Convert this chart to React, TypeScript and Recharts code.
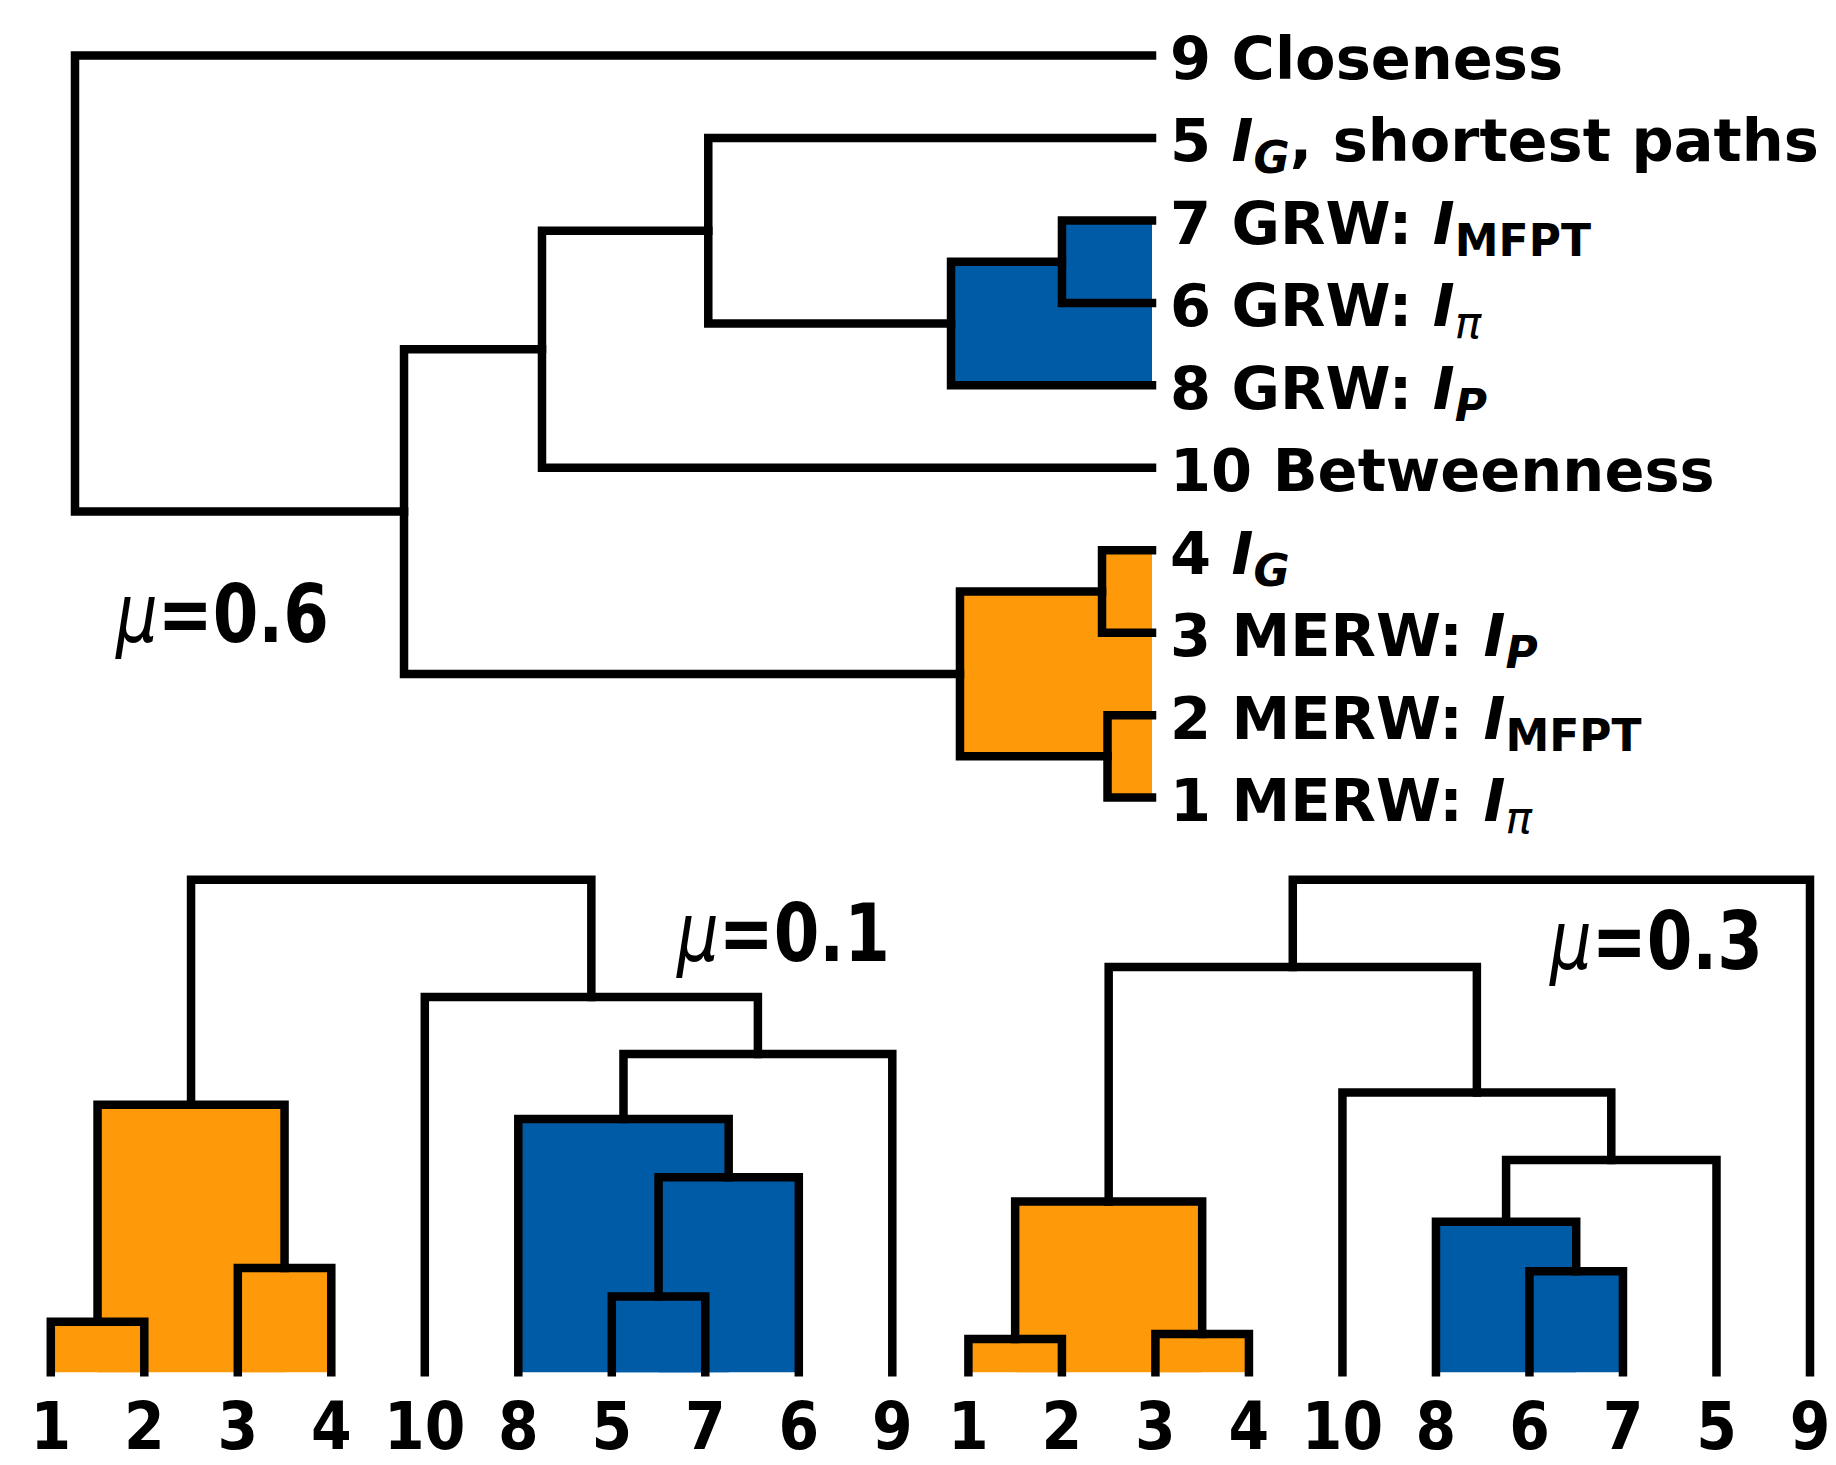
import React from 'react';
import { ScatterChart, Scatter, XAxis, YAxis, ReferenceArea } from 'recharts';

type Ref = number | string;
type Merge = [Ref, Ref, number, string];

const ORANGE = '#FE9A0A';
const BLUE = '#005BA6';
const FONT = '"DejaVu Sans", "Liberation Sans", sans-serif';

// Leaf ids in dendrogram order (first leaf sits at position 5, then 15, 25, ...)
const leaves06 = [1, 2, 3, 4, 10, 8, 6, 7, 5, 9];
const leaves01 = [1, 2, 3, 4, 10, 8, 5, 7, 6, 9];
const leaves03 = [1, 2, 3, 4, 10, 8, 6, 7, 5, 9];

// Merges: [child A, child B, merge distance, cluster ('o' orange, 'b' blue, '' none)]
// children: leaf id (number) or earlier merge 'mK'
const merges06: Merge[] = [
  [1, 2, 0.0413, 'o'],
  [3, 4, 0.0464, 'o'],
  ['m0', 'm1', 0.1783, 'o'],
  [6, 7, 0.0836, 'b'],
  [8, 'm3', 0.1866, 'b'],
  ['m4', 5, 0.412, ''],
  [10, 'm5', 0.5664, ''],
  ['m2', 'm6', 0.6945, ''],
  ['m7', 9, 1.0, ''],
];

const merges01: Merge[] = [
  [1, 2, 0.1025, 'o'],
  [3, 4, 0.212, 'o'],
  ['m0', 'm1', 0.543, 'o'],
  [5, 7, 0.154, 'b'],
  ['m3', 6, 0.396, 'b'],
  [8, 'm4', 0.514, 'b'],
  ['m5', 9, 0.646, ''],
  [10, 'm6', 0.762, ''],
  ['m2', 'm7', 1.0, ''],
];

const merges03: Merge[] = [
  [1, 2, 0.0676, 'o'],
  [3, 4, 0.0778, 'o'],
  ['m0', 'm1', 0.347, 'o'],
  [6, 7, 0.205, 'b'],
  [8, 'm3', 0.3055, 'b'],
  ['m4', 5, 0.431, ''],
  [10, 'm5', 0.568, ''],
  ['m2', 'm6', 0.823, ''],
  ['m7', 9, 1.0, ''],
];

// Leaf names (index = leaf id - 1)
const leafNames = ['MERW: ', 'MERW: ', 'MERW: ', '', '', 'GRW: ', 'GRW: ', 'GRW: ', 'Closeness', 'Betweenness'];
const leafSubs = ['π', 'MFPT', 'P', 'G', 'G', 'π', 'MFPT', 'P', '', ''];
const leafSuffix = ['', '', '', '', ', shortest paths', '', '', '', '', ''];

const muValues = ['0.6', '0.1', '0.3'];

interface Pt { p: number; h: number }
interface Link { pts: Pt[]; lo: number; hi: number; h: number; group: string }

function buildLinks(leaves: number[], merges: Merge[]): Link[] {
  const pos = new Map<string, number>();
  const hgt = new Map<string, number>();
  leaves.forEach((id, i) => {
    pos.set(String(id), 5 + 10 * i);
    hgt.set(String(id), 0);
  });
  return merges.map(([a, b, h, g], i) => {
    const pa = pos.get(String(a)) as number;
    const pb = pos.get(String(b)) as number;
    const ha = hgt.get(String(a)) as number;
    const hb = hgt.get(String(b)) as number;
    pos.set('m' + i, (pa + pb) / 2);
    hgt.set('m' + i, h);
    return {
      pts: [
        { p: pa, h: ha },
        { p: pa, h },
        { p: pb, h },
        { p: pb, h: hb },
      ],
      lo: Math.min(pa, pb),
      hi: Math.max(pa, pb),
      h,
      group: g,
    };
  });
}

const colorOf = (g: string) => (g === 'o' ? ORANGE : BLUE);
const ticksFor = (leaves: number[]) => leaves.map((_, i) => 5 + 10 * i);
const noShape = () => <g />;
const lineStyle = { stroke: '#000', strokeWidth: 8.5, strokeLinecap: 'square' as const, strokeLinejoin: 'miter' as const, fill: 'none' };

function LeafLabel({ id, x, y }: { id: number; x: number; y: number }) {
  const i = id - 1;
  const sub = leafSubs[i];
  const subItalic = sub === 'MFPT' ? 'normal' : 'italic';
  const subWeight = sub === 'π' ? 'normal' : 'bold';
  return (
    <text x={x} y={y} fontFamily={FONT} fontWeight="bold" fontSize={59} fill="#000" style={{ whiteSpace: 'pre' }}>
      <tspan>{`${id} ${leafNames[i]}`}</tspan>
      {sub ? <tspan fontStyle="italic">I</tspan> : null}
      {sub ? (
        <tspan dy={12} fontSize={44} fontStyle={subItalic} fontWeight={subWeight}>
          {sub}
        </tspan>
      ) : null}
      {sub ? <tspan dy={-12}>{leafSuffix[i]}</tspan> : null}
    </text>
  );
}

const links06 = buildLinks(leaves06, merges06);
const links01 = buildLinks(leaves01, merges01);
const links03 = buildLinks(leaves03, merges03);

function TopDendrogram() {
  const renderTick = (props: any) => {
    const { x, y, payload } = props;
    const id = leaves06[Math.round((payload.value - 5) / 10)];
    return <LeafLabel id={id} x={x + 18} y={y + 23.5} />;
  };
  return (
    <ScatterChart width={1836} height={860} margin={{ top: 14.3, right: 0, bottom: 21.2, left: 75 }}>
      <XAxis type="number" dataKey="h" domain={[0, 1]} reversed hide />
      <YAxis
        type="number"
        dataKey="p"
        domain={[0, 100]}
        orientation="right"
        width={684}
        ticks={ticksFor(leaves06)}
        interval={0}
        tickSize={0}
        tickMargin={0}
        axisLine={false}
        tickLine={false}
        tick={renderTick}
      />
      {links06
        .filter((l) => l.group)
        .map((l, i) => (
          <ReferenceArea
            key={'f' + i}
            x1={l.h}
            x2={0}
            y1={l.lo}
            y2={l.hi}
            fill={colorOf(l.group)}
            fillOpacity={1}
            stroke="none"
            ifOverflow="visible"
          />
        ))}
      {links06.map((l, i) => (
        <Scatter
          key={'l' + i}
          data={l.pts}
          isAnimationActive={false}
          line={lineStyle}
          shape={noShape}
          fill="#000"
          legendType="none"
        />
      ))}
    </ScatterChart>
  );
}

function BottomDendrogram({ leaves, links, width, left, right }: { leaves: number[]; links: Link[]; width: number; left: number; right: number }) {
  const renderTick = (props: any) => {
    const { x, y, payload } = props;
    const id = leaves[Math.round((payload.value - 5) / 10)];
    return (
      <g transform={`translate(${x},${y + 77})`}>
        <text transform="scale(0.886,1)" textAnchor="middle" fontFamily={FONT} fontWeight="bold" fontSize={66} fill="#000">
          {id}
        </text>
      </g>
    );
  };
  return (
    <ScatterChart width={width} height={625} margin={{ top: 15.1, right, bottom: 0, left }}>
      <XAxis
        type="number"
        dataKey="p"
        domain={[3, 97]}
        height={92.7}
        ticks={ticksFor(leaves)}
        interval={0}
        tickSize={0}
        tickMargin={0}
        axisLine={false}
        tickLine={false}
        tick={renderTick}
      />
      <YAxis type="number" dataKey="h" domain={[0, 1.05]} hide />
      {links
        .filter((l) => l.group)
        .map((l, i) => (
          <ReferenceArea
            key={'f' + i}
            x1={l.lo}
            x2={l.hi}
            y1={0}
            y2={l.h}
            fill={colorOf(l.group)}
            fillOpacity={1}
            stroke="none"
            ifOverflow="visible"
          />
        ))}
      {links.map((l, i) => (
        <Scatter
          key={'l' + i}
          data={l.pts}
          isAnimationActive={false}
          line={lineStyle}
          shape={noShape}
          fill="#000"
          legendType="none"
        />
      ))}
    </ScatterChart>
  );
}

function MuLabel({ x, y, value }: { x: number; y: number; value: string }) {
  return (
    <g transform={`translate(${x},${y}) scale(0.81,1)`}>
      <text x={0} y={0} fontFamily={FONT} fontWeight="bold" fontSize={81} fill="#000">
        <tspan fontStyle="italic" fontWeight="normal">μ</tspan>
        <tspan>{'=' + value}</tspan>
      </text>
    </g>
  );
}

export default function App() {
  return (
    <div style={{ position: 'absolute', left: 0, top: 0, width: 1836, height: 1465, background: '#fff', overflow: 'hidden' }}>
      <div style={{ position: 'absolute', left: 0, top: 0 }}>
        <TopDendrogram />
      </div>
      <div style={{ position: 'absolute', left: 0, top: 840 }}>
        <BottomDendrogram leaves={leaves01} links={links01} width={930} left={32.1} right={19} />
      </div>
      <div style={{ position: 'absolute', left: 930, top: 840 }}>
        <BottomDendrogram leaves={leaves03} links={links03} width={906} left={19.7} right={7.3} />
      </div>
      <svg width={1836} height={1465} style={{ position: 'absolute', left: 0, top: 0, pointerEvents: 'none' }}>
        <MuLabel x={116} y={642} value={muValues[0]} />
        <MuLabel x={677} y={961} value={muValues[1]} />
        <MuLabel x={1550} y={969} value={muValues[2]} />
      </svg>
    </div>
  );
}
